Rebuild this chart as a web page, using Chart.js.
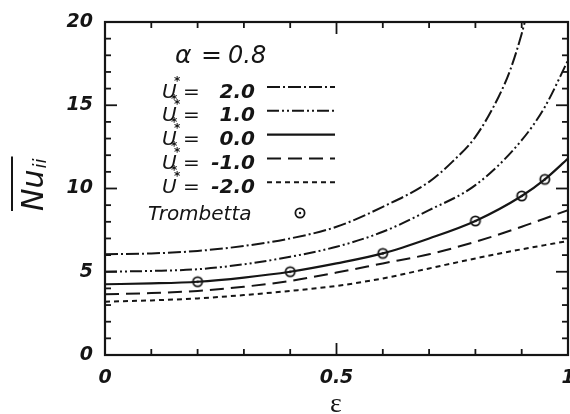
<!DOCTYPE html>
<html>
<head>
<meta charset="utf-8">
<script src="https://cdn.jsdelivr.net/npm/chart.js@4.4.0/dist/chart.umd.min.js"></script>
<style>
  html, body { margin: 0; padding: 0; background: #fff; }
  #wrap { width: 570px; height: 414px; }
</style>
</head>
<body>
<div id="wrap"><canvas id="nu-chart" width="570" height="414"></canvas></div>
<script>
// ── Data ─────────────────────────────────────────────────────
const EPS      = [0, 0.1, 0.2, 0.3, 0.4, 0.5, 0.6, 0.7, 0.8, 0.9, 0.95, 1.0];
const NU_U0    = [4.25, 4.3, 4.4, 4.65, 5.0, 5.5, 6.1, 7.0, 8.05, 9.55, 10.55, 11.8];
const NU_U1    = [5.0, 5.05, 5.15, 5.45, 5.9, 6.5, 7.4, 8.7, 10.2, 12.9, 14.9, 17.7];
const NU_UM1   = [3.65, 3.72, 3.85, 4.1, 4.45, 4.95, 5.5, 6.05, 6.8, 7.7, 8.2, 8.7];
const NU_UM2   = [3.2, 3.28, 3.4, 3.6, 3.85, 4.15, 4.6, 5.2, 5.8, 6.35, 6.6, 6.85];
const EPS_U2   = [0, 0.1, 0.2, 0.3, 0.4, 0.5, 0.6, 0.7, 0.75, 0.8, 0.85, 0.875, 0.9, 0.92];
const NU_U2    = [6.05, 6.1, 6.25, 6.55, 7.0, 7.7, 8.9, 10.4, 11.6, 13.1, 15.5, 17.1, 19.3, 21.5];
const EPS_TROM = [0.2, 0.4, 0.6, 0.8, 0.9, 0.95];
const NU_TROM  = [4.4, 5.0, 6.1, 8.05, 9.55, 10.55];

const LEGEND_VALUES = ['2.0', '1.0', '0.0', '-1.0', '-2.0'];
const X_TICKS = [0, 0.5, 1];
const Y_TICKS = [0, 5, 10, 15, 20];

// ── Styles ───────────────────────────────────────────────────
const INK = '#151515';
const FONT = '"DejaVu Sans", sans-serif';
const TICK_FONT = { family: FONT, size: 19, style: 'italic', weight: 'bold' };

const DASH = {
  u2:  [13, 3, 2, 3],
  u1:  [12, 3, 2, 3, 2, 3],
  u0:  [],
  um1: [14, 7],
  um2: [5, 4],
};

const pairs = (xs, ys) => xs.map((v, i) => ({ x: v, y: ys[i] }));

// Trombetta marker: open circle with a dot in the middle
function makeMarker() {
  const c = document.createElement('canvas');
  c.width = 14; c.height = 14;
  const g = c.getContext('2d');
  g.strokeStyle = INK; g.fillStyle = '#fff'; g.lineWidth = 1.8;
  g.beginPath(); g.arc(7, 7, 4.6, 0, Math.PI * 2); g.fill(); g.stroke();
  g.fillStyle = INK;
  g.beginPath(); g.arc(7, 7, 1.2, 0, Math.PI * 2); g.fill();
  return c;
}
const marker = makeMarker();

function curve(label, xs, ys, dash, width) {
  return {
    label,
    data: pairs(xs, ys),
    borderColor: INK,
    borderWidth: width || 2,
    borderDash: dash,
    pointRadius: 0,
    fill: false,
    cubicInterpolationMode: 'monotone',
  };
}

// ── Decorations: frame, inward ticks, titles, legend ─────────
function seg(ctx, x1, y1, x2, y2) {
  ctx.beginPath(); ctx.moveTo(x1, y1); ctx.lineTo(x2, y2); ctx.stroke();
}

function drawUStar(ctx, x, base, value, subStar) {
  ctx.font = 'italic 20px ' + FONT;
  ctx.textAlign = 'left';
  ctx.fillText('U', x, base);
  ctx.font = 'bold 12px ' + FONT;
  ctx.fillText('*', x + 12, base - 13);
  if (subStar) ctx.fillText('*', x + 9, base + 5);
  ctx.font = 'italic 20px ' + FONT;
  ctx.fillText('=', x + 21, base);
  ctx.font = 'italic bold 20px ' + FONT;
  ctx.textAlign = 'right';
  ctx.fillText(value, 255, base);
}

const decorPlugin = {
  id: 'decor',
  afterDraw(chart) {
    const { ctx, chartArea: a, scales: { x, y } } = chart;
    ctx.save();
    ctx.strokeStyle = INK;
    ctx.fillStyle = INK;
    ctx.setLineDash([]);

    // frame
    ctx.lineWidth = 2.2;
    ctx.strokeRect(a.left, a.top, a.right - a.left, a.bottom - a.top);

    // inward ticks on all four sides
    ctx.lineWidth = 1.8;
    for (let i = 1; i < 10; i++) {
      const px = x.getPixelForValue(i / 10);
      const len = i % 5 === 0 ? 12 : 6;
      seg(ctx, px, a.bottom, px, a.bottom - len);
      seg(ctx, px, a.top, px, a.top + len);
    }
    for (let v = 1; v < 20; v++) {
      const py = y.getPixelForValue(v);
      const len = v % 5 === 0 ? 12 : 6;
      seg(ctx, a.left, py, a.left + len, py);
      seg(ctx, a.right, py, a.right - len, py);
    }

    // x tick labels (drawn here so the last one may run off the canvas edge)
    ctx.font = 'italic bold 19px ' + FONT;
    ctx.textAlign = 'center';
    ctx.textBaseline = 'middle';
    X_TICKS.forEach(v => ctx.fillText(String(v), x.getPixelForValue(v), a.bottom + 23));

    // y title: overline Nu with subscript ii
    ctx.save();
    ctx.translate(43, 211);
    ctx.rotate(-Math.PI / 2);
    ctx.textAlign = 'left';
    ctx.textBaseline = 'alphabetic';
    ctx.font = 'italic 30px ' + FONT;
    ctx.fillText('Nu', 0, 0);
    const w = ctx.measureText('Nu').width;
    ctx.font = 'italic 18px ' + FONT;
    ctx.fillText('ii', w + 1, 3);
    const w2 = w + 1 + ctx.measureText('ii').width;
    ctx.lineWidth = 2;
    seg(ctx, 0, -31, w2 + 2, -31);
    ctx.restore();

    // x title
    ctx.textAlign = 'center';
    ctx.textBaseline = 'alphabetic';
    ctx.font = '28px "Liberation Serif", serif';
    ctx.fillText('ε', 336, 412);

    // alpha label
    ctx.textAlign = 'left';
    ctx.font = 'italic 25px ' + FONT;
    ctx.fillText('α', 175, 63);
    ctx.fillText('=', 201, 63);
    ctx.font = 'italic 24px ' + FONT;
    ctx.fillText('0.8', 228, 63);

    // legend rows with the dataset line styles
    const sets = chart.data.datasets;
    LEGEND_VALUES.forEach((val, i) => {
      const base = 97.5 + i * 23.8;
      drawUStar(ctx, 162, base, val, i < 4);
      const ds = sets[i];
      ctx.save();
      ctx.lineWidth = ds.borderWidth;
      ctx.setLineDash(ds.borderDash);
      seg(ctx, 267, base - 10.5, 335, base - 10.5);
      ctx.restore();
    });

    ctx.textAlign = 'left';
    ctx.font = 'italic 20px ' + FONT;
    ctx.fillText('Trombetta', 148, 220);
    ctx.drawImage(marker, 300 - 7, 213 - 7);

    ctx.restore();
  },
};

// ── Chart ────────────────────────────────────────────────────
const chart = new Chart(document.getElementById('nu-chart'), {
  type: 'line',
  data: {
    datasets: [
      curve('U* = 2.0', EPS_U2, NU_U2, DASH.u2),
      curve('U* = 1.0', EPS, NU_U1, DASH.u1),
      curve('U* = 0.0', EPS, NU_U0, DASH.u0, 2.2),
      curve('U* = -1.0', EPS, NU_UM1, DASH.um1),
      curve('U* = -2.0', EPS, NU_UM2, DASH.um2),
      {
        label: 'Trombetta',
        data: pairs(EPS_TROM, NU_TROM),
        showLine: false,
        pointStyle: marker,
        pointRadius: 7,
      },
    ],
  },
  options: {
    responsive: false,
    animation: false,
    devicePixelRatio: 1,
    layout: { autoPadding: false, padding: { top: 22, right: 2, left: 0, bottom: 0 } },
    plugins: { legend: { display: false }, tooltip: { enabled: false } },
    scales: {
      x: {
        type: 'linear', min: 0, max: 1,
        grid: { display: false, drawTicks: false },
        border: { display: false },
        ticks: { display: false },
        afterFit: s => { s.height = 59; },
      },
      y: {
        type: 'linear', min: 0, max: 20,
        grid: { display: false, drawTicks: false },
        border: { display: false },
        afterBuildTicks: s => { s.ticks = Y_TICKS.map(v => ({ value: v })); },
        ticks: { padding: 12, font: TICK_FONT, color: INK, autoSkip: false,
                 callback: v => String(v) },
        afterFit: s => { s.width = 105; s.paddingTop = 0; s.paddingBottom = 0; },
      },
    },
  },
  plugins: [decorPlugin],
});
</script>
</body>
</html>
